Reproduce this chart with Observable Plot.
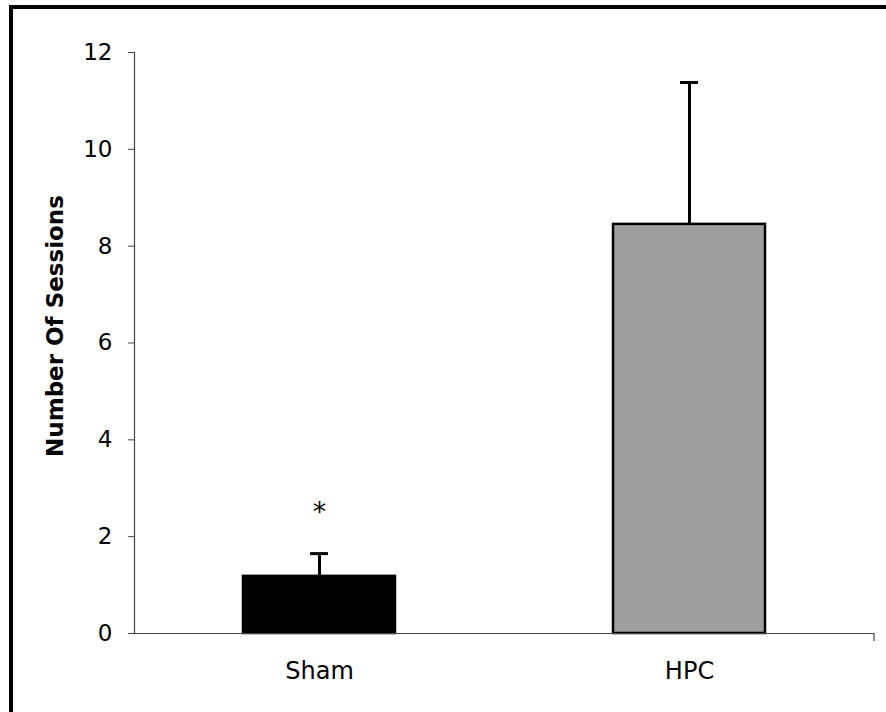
<!DOCTYPE html>
<html>
<head>
<meta charset="utf-8">
<script src="https://cdn.jsdelivr.net/npm/d3@7"></script>
<script src="https://cdn.jsdelivr.net/npm/@observablehq/plot@0.6"></script>
<style>
  html, body { margin: 0; padding: 0; background: #fff; }
  #wrap { position: relative; width: 886px; height: 712px; overflow: hidden; }
  #frame { position: absolute; left: 9px; top: 5px; right: -10px; bottom: -10px;
           border-left: 4px solid #000; border-top: 4px solid #000; pointer-events: none; }
</style>
</head>
<body>
<div id="wrap"><div id="chart"></div><div id="frame"></div></div>
<script>
const categories = ["Sham", "HPC"];
const means = [1.18, 8.45];
const errors = [0.47, 2.93];
const significance = ["*", ""];
const yTicks = [0, 2, 4, 6, 8, 10, 12];
const yLabel = "Number Of Sessions";
const fills = ["#000000", "#9e9e9e"];

const data = categories.map((c, i) => ({
  group: c, mean: means[i], top: means[i] + errors[i], sig: significance[i], fill: fills[i]
}));

const font = "'DejaVu Sans', Verdana, sans-serif";

const plot = Plot.plot({
  width: 886,
  height: 712,
  marginLeft: 134,
  marginRight: 12,
  marginTop: 52,
  marginBottom: 79,
  style: { fontFamily: font, fontSize: "23px", color: "#000", background: "transparent" },
  x: { domain: categories, paddingInner: 0.59, paddingOuter: 0.295, align: 0.5 },
  y: { domain: [0, 12], ticks: yTicks },
  marks: [
    Plot.barY(data, { x: "group", y: "mean", fill: "fill", stroke: "#000", strokeWidth: 2.5 }),
    Plot.ruleX(data, { x: "group", y1: "mean", y2: "top", stroke: "#000", strokeWidth: 3 }),
    Plot.tickY(data, { x: "group", y: "top", stroke: "#000", strokeWidth: 3, insetLeft: 67, insetRight: 67 }),
    Plot.text(data, { x: "group", y: (d) => d.top + 0.95, text: "sig", fontSize: 27, dy: 5 }),
    Plot.ruleY([0], { stroke: "#444", strokeWidth: 1.2 }),
    Plot.frame({ anchor: "left", stroke: "#444", strokeWidth: 1.2 }),
    Plot.axisY({ ticks: yTicks, tickSize: 6, tickPadding: 16, stroke: "#444",
                 label: yLabel, labelAnchor: "center", labelArrow: "none", labelOffset: 88,
                 fontSize: 23 }),
    Plot.axisX({ tickSize: 0, tickPadding: 28, label: null, fontSize: 24 })
  ]
});

// bold axis label, nudged along its own direction
d3.select(plot).selectAll("g[aria-label='y-axis label'] text")
  .style("font-weight", "bold").style("font-size", "23px").attr("dx", 17);

// end tick at the right of the category axis, derived from the x scale range
const xr = plot.scale("x").range;
const yr = plot.scale("y").range;
d3.select(plot).append("line")
  .attr("x1", xr[1]).attr("x2", xr[1])
  .attr("y1", yr[0]).attr("y2", yr[0] + 8)
  .attr("stroke", "#444").attr("stroke-width", 1.2);

document.getElementById("chart").appendChild(plot);
</script>
</body>
</html>
